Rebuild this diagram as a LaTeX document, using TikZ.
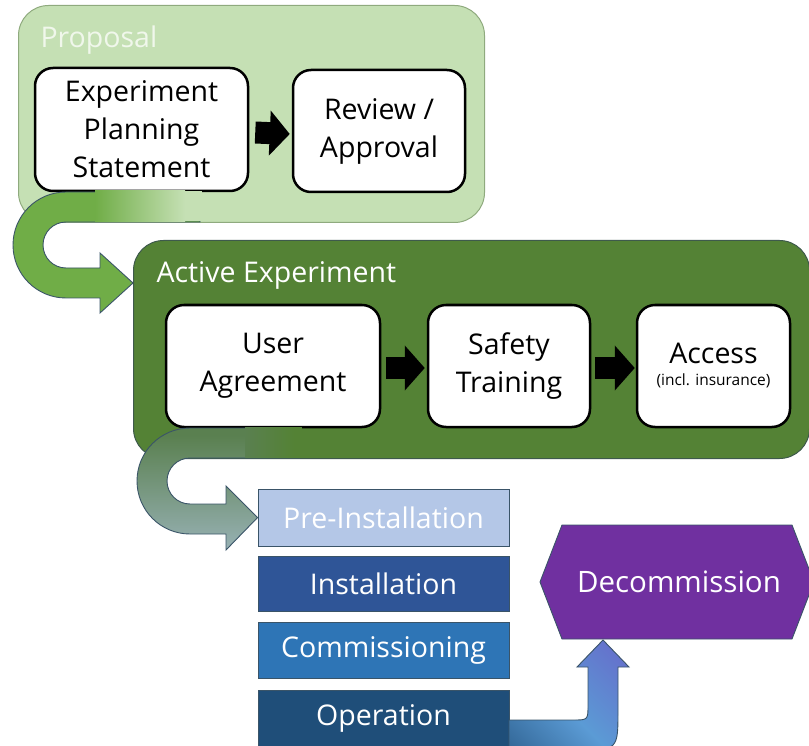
\documentclass[tikz,border=0pt]{standalone}
\usepackage{fontspec}
\setmainfont{Open Sans}
\usetikzlibrary{arrows.meta, positioning, calc}

\definecolor{propgreen}{HTML}{C5E0B4}
\definecolor{propedge}{HTML}{8FAA7E}
\definecolor{proptext}{HTML}{F0F7EB}
\definecolor{actgreen}{HTML}{548235}
\definecolor{actedge}{HTML}{3E5A4C}
\definecolor{arrowgreen}{HTML}{70AD47}
\definecolor{arrowedge}{HTML}{3A5468}
\definecolor{preblue}{HTML}{B4C7E7}
\definecolor{instblue}{HTML}{2F5597}
\definecolor{commblue}{HTML}{2E75B6}
\definecolor{operblue}{HTML}{1F4E79}
\definecolor{decompurple}{HTML}{7030A0}
\definecolor{midblue}{HTML}{5B9BD5}
\definecolor{violetblue}{HTML}{6B57C6}
\definecolor{greygreen}{HTML}{5A8050}
\definecolor{paleblue}{HTML}{B8CBE9}
\pgfdeclarehorizontalshading{operdecom}{100bp}{color(0bp)=(operblue); color(45bp)=(midblue); color(100bp)=(violetblue)}
\pgfdeclareverticalshading{activepre}{100bp}{color(0bp)=(paleblue); color(72bp)=(greygreen); color(100bp)=(greygreen)}

\begin{document}
\begin{tikzpicture}[x=1pt, y=-1pt,
    container/.style={anchor=north west, rounded corners=30pt, line width=1pt},
    title/.style={anchor=west, text=white, font=\fontsize{28.5}{32}\selectfont},
    stepbox/.style={draw=black, line width=2.5pt, fill=white, rounded corners=18pt, align=center, font=\fontsize{28.5}{38}\selectfont},
    blockarrow/.style={line width=22pt, -{Triangle[width=44pt, length=20pt]}},
    stage/.style={draw=arrowedge, line width=0.8pt, minimum width=251pt, text=white, font=\fontsize{28.5}{32}\selectfont},
    bigarrow/.style={draw=arrowedge, line width=0.9pt}]

\useasboundingbox (0,0) rectangle (809,746);

% proposal
\node[container, draw=propedge, fill=propgreen, minimum width=466pt, minimum height=217pt] (proposal) at (18,5) {};
\node[title, text=proptext] (proposaltitle) at (37,40) {Proposal};
\node[stepbox, minimum width=213pt, minimum height=123pt] (plan) at (141.5,129.5) {Experiment\\Planning\\Statement};
\node[stepbox, minimum width=172pt, minimum height=122pt] (review) at (379,131) {Review /\\Approval};
\draw[blockarrow] ($(plan.east)+(6,3)$) -- ($(review.west)+(-2,3)$);

% proposal -> active experiment
\draw[bigarrow, fill=arrowgreen] (200,192) -- (66,192) .. controls (36.7,192) and (13,215.7) .. (13,245)
    .. controls (13,274.3) and (36.7,298) .. (66,298) -- (100,298) -- (100,313) -- (133,283) -- (100,253)
    -- (100,268) -- (66,268) .. controls (53.3,268) and (43,257.7) .. (43,245)
    .. controls (43,232.3) and (53.3,222) .. (66,222) -- (200,222) -- cycle;
\shade[left color=arrowgreen, right color=propgreen] (95,191) rectangle (185,221.5);
\fill[propgreen] (184.5,191) rectangle (202,221.5);

% active experiment
\node[container, draw=actedge, fill=actgreen, minimum width=676pt, minimum height=218pt] (active) at (133,240) {};
\node[title] (activetitle) at (153,275) {Active Experiment};
\node[stepbox, minimum width=214pt, minimum height=122pt] (user) at (273,366) {User\\Agreement};
\node[stepbox, minimum width=162pt, minimum height=122pt] (safety) at (509,366) {Safety\\Training};
\node[stepbox, minimum width=153pt, minimum height=122pt] (access) at (713.5,366) {Access\\[-16pt]\fontsize{15.5}{18}\selectfont(incl. insurance)};
\draw[blockarrow] ($(user.east)+(5,2)$) -- ($(safety.west)+(-2,2)$);
\draw[blockarrow] ($(safety.east)+(4,2)$) -- ($(access.west)+(-1,2)$);

% stages
\node[stage, fill=preblue, minimum height=57pt] (preinst) at (383.5,517.5) {Pre-Installation};
\node[stage, fill=instblue, minimum height=55pt] (install) at (383.5,583.5) {Installation};
\node[stage, fill=commblue, minimum height=56pt] (commission) at (383.5,650) {Commissioning};
\node[stage, fill=operblue, minimum height=56pt] (operation) at (383.5,718) {Operation};

% active experiment -> stages
\draw[bigarrow, shading=activepre] (300,428) -- (190,428) .. controls (160.7,428) and (137,451.7) .. (137,481)
    .. controls (137,510.3) and (160.7,534) .. (190,534) -- (226,534) -- (226,550) -- (preinst.west) -- (226,486)
    -- (226,504) -- (190,504) .. controls (177.3,504) and (167,493.7) .. (167,481)
    .. controls (167,468.3) and (177.3,458) .. (190,458) -- (300,458) -- cycle;
\shade[left color=greygreen, right color=actgreen] (245,427) rectangle (294,457.5);
\fill[actgreen] (293.5,427) rectangle (301.5,457.5);

% decommission
\draw[draw=arrowedge, line width=0.9pt, fill=decompurple] (540,582) -- (562,525) -- (792,525) -- (814,582) -- (792,639) -- (562,639) -- cycle;
\node[text=white, font=\fontsize{29.5}{32}\selectfont] (decom) at (679,582) {Decommission};

% operation -> decommission
\draw[bigarrow, shading=operdecom, shading angle=45] (509,720) -- (573,720) .. controls (588,720) .. (588,705) -- (588,667) -- (577,667)
    -- (603,640) -- (629,667) -- (618,667) -- (618,710) .. controls (618,750) .. (578,750) -- (509,750) -- cycle;

\end{tikzpicture}
\end{document}
